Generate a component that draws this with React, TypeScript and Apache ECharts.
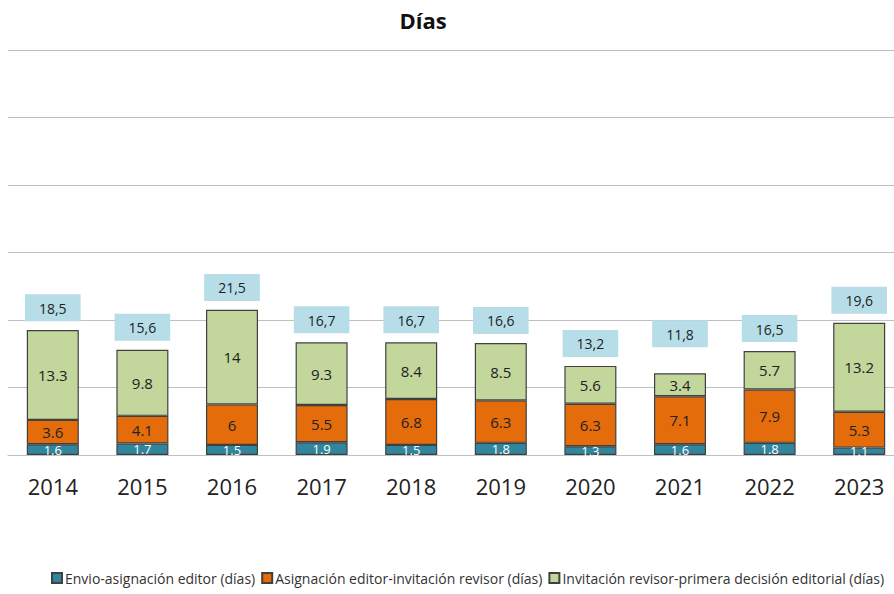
import React, { useEffect, useRef } from "react";
import * as echarts from "echarts";

const years = ["2014", "2015", "2016", "2017", "2018", "2019", "2020", "2021", "2022", "2023"];
const envioEditor = [1.6, 1.7, 1.5, 1.9, 1.5, 1.8, 1.3, 1.6, 1.8, 1.1];
const editorRevisor = [3.6, 4.1, 6, 5.5, 6.8, 6.3, 6.3, 7.1, 7.9, 5.3];
const revisorDecision = [13.3, 9.8, 14, 9.3, 8.4, 8.5, 5.6, 3.4, 5.7, 13.2];
const totals = ["18,5", "15,6", "21,5", "16,7", "16,7", "16,6", "13,2", "11,8", "16,5", "19,6"];

const seriesNames = [
  "Envio-asignación editor (días)",
  "Asignación editor-invitación revisor (días)",
  "Invitación revisor-primera decisión editorial (días)",
];

const FONT = "'Open Sans', 'Noto Sans', sans-serif";

export default function App() {
  const ref = useRef<HTMLDivElement>(null);
  useEffect(() => {
    if (!ref.current) return;
    const chart = echarts.init(ref.current, undefined, { renderer: "svg" });
    const border = { borderColor: "#404040", borderWidth: 1.2 };
    const segLabel = (color: string, size: number) => ({
      show: true,
      position: "inside" as const,
      color,
      fontSize: size,
      fontFamily: FONT,
      formatter: (p: any) => String(p.value),
    });
    chart.setOption({
      animation: false,
      textStyle: { fontFamily: FONT },
      title: {
        text: "Días",
        left: 418,
        top: 4,
        textAlign: "center",
        textStyle: { fontSize: 22, fontWeight: "bold", color: "#111", fontFamily: FONT },
      },
      legend: {
        bottom: 4,
        left: 46,
        icon: "rect",
        itemWidth: 10,
        itemHeight: 10,
        itemGap: 6,
        textStyle: { fontSize: 14, color: "#333", fontFamily: FONT, padding: [0, 0, 0, -2] },
        data: seriesNames,
      },
      grid: { left: 8, right: 0, top: 50, bottom: 139 },
      xAxis: {
        type: "category",
        data: years,
        axisTick: { show: false },
        axisLine: { lineStyle: { color: "#BFBFBF", width: 1 } },
        axisLabel: { fontSize: 22, color: "#222", margin: 20, fontFamily: FONT },
      },
      yAxis: {
        type: "value",
        min: 0,
        max: 60,
        interval: 10,
        axisLabel: { show: false },
        axisLine: { show: false },
        axisTick: { show: false },
        splitLine: { lineStyle: { color: "#BFBFBF", width: 1 } },
      },
      series: [
        {
          name: seriesNames[0],
          type: "bar",
          stack: "t",
          barWidth: 52,
          data: envioEditor,
          itemStyle: { color: "#31859C", ...border },
          label: segLabel("#fff", 13),
        },
        {
          name: seriesNames[1],
          type: "bar",
          stack: "t",
          barWidth: 52,
          data: editorRevisor,
          itemStyle: { color: "#E46C0A", ...border },
          label: segLabel("#222", 15),
        },
        {
          name: seriesNames[2],
          type: "bar",
          stack: "t",
          barWidth: 52,
          data: revisorDecision,
          itemStyle: { color: "#C3D69B", ...border },
          label: segLabel("#222", 15),
        },
        {
          name: "Total",
          type: "bar",
          stack: "t",
          barWidth: 52,
          data: years.map((_, i) => ({
            value: 0,
            label: i === 7 ? { distance: 26 } : undefined,
          })),
          itemStyle: { color: "transparent", borderWidth: 0 },
          label: {
            show: true,
            position: "top",
            distance: 9,
            formatter: (p: any) => totals[p.dataIndex],
            backgroundColor: "#B7DEE8",
            padding: [7, 14, 6, 14],
            fontSize: 14,
            color: "#222",
            fontFamily: FONT,
          },
          tooltip: { show: false },
        },
      ],
    });
    return () => chart.dispose();
  }, []);
  return (
    <div
      style={{ position: "absolute", left: 0, top: 0, width: 894, height: 594, overflow: "hidden", background: "#fff" }}
    >
      <div ref={ref} style={{ width: 904, height: 594 }} />
    </div>
  );
}
